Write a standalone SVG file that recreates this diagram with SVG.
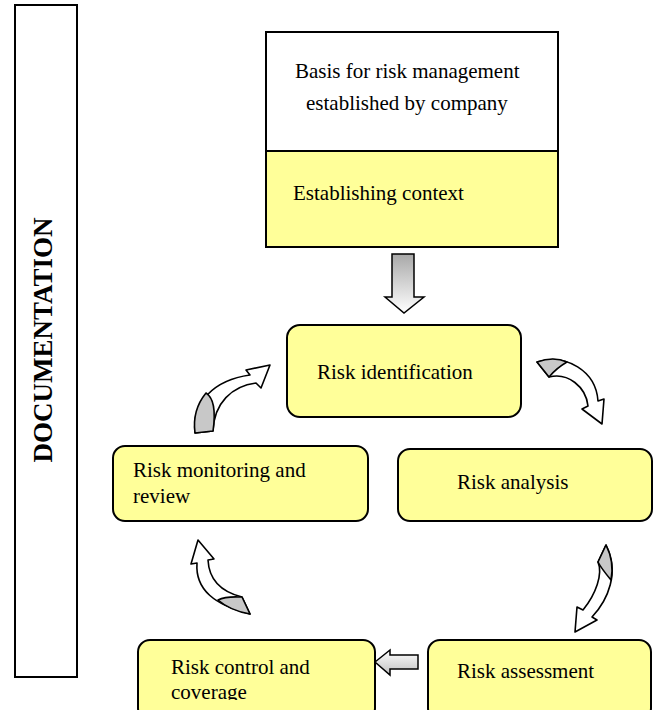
<svg xmlns="http://www.w3.org/2000/svg" width="655" height="710" viewBox="0 0 655 710">
  <style>
    .t { font-family: "Liberation Serif", "Times New Roman", serif; font-size: 21px; fill: #000; }
    .box { fill: #FFFF99; stroke: #000; stroke-width: 2; }
    .plain { fill: #fff; stroke: #000; stroke-width: 2; }
    .curv { fill: #fff; stroke: #000; stroke-width: 1.6; stroke-linejoin: round; }
    .twist { fill: #c8c8c8; stroke: #000; stroke-width: 1.6; stroke-linejoin: round; }
    .blk { fill: url(#gv); stroke: #000; stroke-width: 1.5; }
    .blkh { fill: url(#gh); stroke: #000; stroke-width: 1.5; }
  </style>
  <defs>
    <linearGradient id="gv" x1="0" y1="0" x2="0" y2="1">
      <stop offset="0" stop-color="#a8a8a8"/>
      <stop offset="1" stop-color="#ffffff"/>
    </linearGradient>
    <linearGradient id="gh" x1="0" y1="0" x2="0" y2="1">
      <stop offset="0" stop-color="#ffffff"/>
      <stop offset="1" stop-color="#c0c0c0"/>
    </linearGradient>
    <clipPath id="txtclip"><rect x="0" y="0" width="655" height="700"/></clipPath>
  </defs>
  <rect width="655" height="710" fill="#fff"/>

  <g id="documentation">
    <rect class="plain" x="15" y="5" width="62" height="672"/>
    <text class="t" transform="translate(52,340) rotate(-90)" text-anchor="middle" style="font-weight:bold;font-size:27px">DOCUMENTATION</text>
  </g>

  <g id="basis">
    <rect x="266" y="32" width="292" height="119" fill="#fff" stroke="#000" stroke-width="2"/>
    <text class="t" x="295" y="78">Basis for risk management</text>
    <text class="t" x="306" y="110">established by company</text>
  </g>

  <g id="context">
    <rect class="box" x="266" y="151" width="292" height="96"/>
    <text class="t" x="293" y="200">Establishing context</text>
  </g>

  <g id="identification">
    <rect class="box" x="287" y="325" width="234" height="92" rx="13"/>
    <text class="t" x="317" y="379">Risk identification</text>
  </g>

  <g id="analysis">
    <rect class="box" x="398" y="449" width="254" height="72" rx="12"/>
    <text class="t" x="457" y="489">Risk analysis</text>
  </g>

  <g id="monitoring">
    <rect class="box" x="113" y="446" width="255" height="75" rx="12"/>
    <text class="t" x="133" y="477">Risk monitoring and</text>
    <text class="t" x="133" y="503">review</text>
  </g>

  <g id="control">
    <rect class="box" x="138" y="640" width="237" height="80" rx="12"/>
    <g clip-path="url(#txtclip)">
      <text class="t" x="171" y="674">Risk control and</text>
      <text class="t" x="171" y="699">coverage</text>
    </g>
  </g>

  <g id="assessment">
    <rect class="box" x="428" y="640" width="223" height="80" rx="12"/>
    <text class="t" x="457" y="678">Risk assessment</text>
  </g>

  <g id="connectors">
    <path class="blk" d="M392,254 H414 V297 H424 L404,313 L385,297 H392 Z"/>
    <path class="blkh" d="M375,662 L390,650 V655 H418 V669 H390 V675 Z"/>

    <!-- monitoring -> identification -->
    <path class="curv" d="M195,433 C192,402 214,380 250,375 L246,370 L270,365 L261,388 L256,383 C232,386 214,403 213,431 Z"/>
    <path class="twist" d="M195,433 C193,418 197,404 206,393 C214,398 216,410 213,431 Z"/>

    <!-- identification -> analysis -->
    <path class="curv" d="M537,362 C566,353 596,371 598,401 L604,399 L602,424 L582,409 L588,406 C586,387 568,372 549,377 Z"/>
    <path class="twist" d="M537,362 C548,358 558,358 567,362 C560,366 554,371 549,377 Z"/>

    <!-- analysis -> assessment -->
    <path class="curv" d="M606,545 C620,572 608,600 592,617 L597,620 L575,632 L577,607 L583,610 C596,594 603,574 598,562 Z"/>
    <path class="twist" d="M606,545 C612,557 613,570 611,580 C606,574 601,568 598,562 Z"/>

    <!-- control -> monitoring -->
    <path class="curv" d="M250,614 C215,605 195,590 197,563 L191,564 L198,540 L214,559 L208,560 C209,580 222,592 242,597 Z"/>
    <path class="twist" d="M250,614 C238,612 226,607 218,600 C226,596 234,597 242,597 Z"/>
  </g>
</svg>
